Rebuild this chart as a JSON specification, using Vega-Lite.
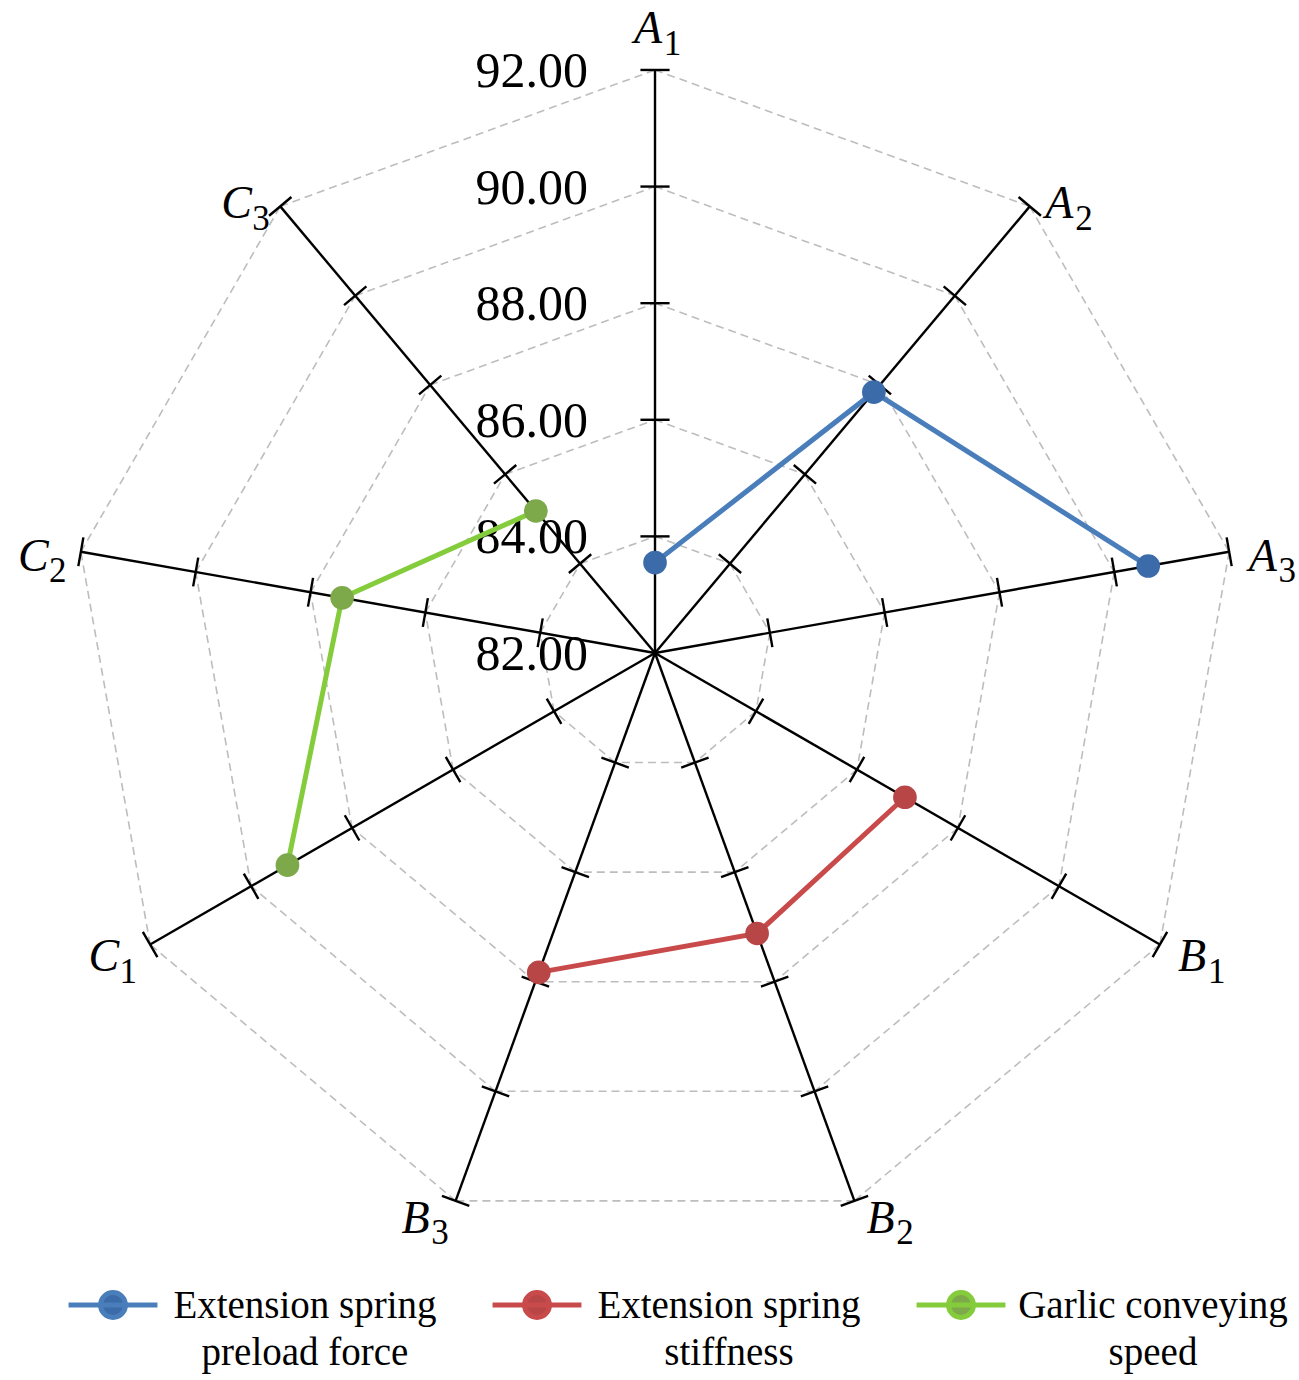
{
  "$schema": "https://vega.github.io/schema/vega-lite/v6.json",
  "description": "Radar chart of garlic root cutting test results by factor level.",
  "width": 1299,
  "height": 1250,
  "autosize": "none",
  "padding": {"left": 0, "top": 0, "right": 0, "bottom": 130},
  "datasets": {
    "axes": [
      {"letter": "A", "sub": "1", "k": 0, "levels": [84, 86, 88, 90, 92]},
      {"letter": "A", "sub": "2", "k": 1, "levels": [84, 86, 88, 90, 92]},
      {"letter": "A", "sub": "3", "k": 2, "levels": [84, 86, 88, 90, 92]},
      {"letter": "B", "sub": "1", "k": 3, "levels": [84, 86, 88, 90, 92]},
      {"letter": "B", "sub": "2", "k": 4, "levels": [84, 86, 88, 90, 92]},
      {"letter": "B", "sub": "3", "k": 5, "levels": [84, 86, 88, 90, 92]},
      {"letter": "C", "sub": "1", "k": 6, "levels": [84, 86, 88, 90, 92]},
      {"letter": "C", "sub": "2", "k": 7, "levels": [84, 86, 88, 90, 92]},
      {"letter": "C", "sub": "3", "k": 8, "levels": [84, 86, 88, 90, 92]}
    ],
    "ticks": [
      {"level": 82}, {"level": 84}, {"level": 86},
      {"level": 88}, {"level": 90}, {"level": 92}
    ],
    "results": [
      {"series": "Extension spring preload force", "axis": "A1", "k": 0, "value": 83.55},
      {"series": "Extension spring preload force", "axis": "A2", "k": 1, "value": 87.84},
      {"series": "Extension spring preload force", "axis": "A3", "k": 2, "value": 90.59},
      {"series": "Extension spring stiffness", "axis": "B1", "k": 3, "value": 86.95},
      {"series": "Extension spring stiffness", "axis": "B2", "k": 4, "value": 87.12},
      {"series": "Extension spring stiffness", "axis": "B3", "k": 5, "value": 87.83},
      {"series": "Garlic conveying speed", "axis": "C1", "k": 6, "value": 89.28},
      {"series": "Garlic conveying speed", "axis": "C2", "k": 7, "value": 87.45},
      {"series": "Garlic conveying speed", "axis": "C3", "k": 8, "value": 85.18}
    ]
  },
  "encoding": {
    "x": {"field": "x", "type": "quantitative", "axis": null,
          "scale": {"domain": [-11.235, 11.046], "nice": false, "zero": false}},
    "y": {"field": "y", "type": "quantitative", "axis": null,
          "scale": {"domain": [-10.24, 11.2], "nice": false, "zero": false}}
  },
  "layer": [
    {
      "data": {"name": "axes"},
      "transform": [
        {"flatten": ["levels"], "as": ["level"]},
        {"calculate": "datum.k * 2 * PI / 9", "as": "t"},
        {"calculate": "(datum.level - 82) * sin(datum.t)", "as": "x"},
        {"calculate": "(datum.level - 82) * cos(datum.t)", "as": "y"},
        {"calculate": "(datum.level - 82) * sin(datum.t + 2 * PI / 9)", "as": "x2"},
        {"calculate": "(datum.level - 82) * cos(datum.t + 2 * PI / 9)", "as": "y2"}
      ],
      "mark": {"type": "rule", "stroke": "#bdbdbd", "strokeWidth": 1.6, "strokeDash": [8, 5]},
      "encoding": {
        "x2": {"field": "x2"},
        "y2": {"field": "y2"}
      }
    },
    {
      "data": {"name": "axes"},
      "transform": [
        {"calculate": "datum.k * 2 * PI / 9", "as": "t"},
        {"calculate": "0", "as": "x"},
        {"calculate": "0", "as": "y"},
        {"calculate": "10 * sin(datum.t)", "as": "x2"},
        {"calculate": "10 * cos(datum.t)", "as": "y2"}
      ],
      "mark": {"type": "rule", "stroke": "#000000", "strokeWidth": 2.4},
      "encoding": {
        "x2": {"field": "x2"},
        "y2": {"field": "y2"}
      }
    },
    {
      "data": {"name": "axes"},
      "transform": [
        {"flatten": ["levels"], "as": ["level"]},
        {"calculate": "datum.k * 2 * PI / 9", "as": "t"},
        {"calculate": "(datum.level - 82) * sin(datum.t) - 0.25 * cos(datum.t)", "as": "x"},
        {"calculate": "(datum.level - 82) * cos(datum.t) + 0.25 * sin(datum.t)", "as": "y"},
        {"calculate": "(datum.level - 82) * sin(datum.t) + 0.25 * cos(datum.t)", "as": "x2"},
        {"calculate": "(datum.level - 82) * cos(datum.t) - 0.25 * sin(datum.t)", "as": "y2"}
      ],
      "mark": {"type": "rule", "stroke": "#000000", "strokeWidth": 2.4},
      "encoding": {
        "x2": {"field": "x2"},
        "y2": {"field": "y2"}
      }
    },
    {
      "data": {"name": "ticks"},
      "transform": [
        {"calculate": "-1.15", "as": "x"},
        {"calculate": "datum.level - 82", "as": "y"}
      ],
      "mark": {"type": "text", "font": "Liberation Serif", "fontSize": 50, "align": "right",
               "baseline": "alphabetic", "dy": 17, "color": "#000000"},
      "encoding": {
        "text": {"field": "level", "type": "quantitative", "format": ".2f"}
      }
    },
    {
      "data": {"name": "results"},
      "transform": [
        {"calculate": "datum.k * 2 * PI / 9", "as": "t"},
        {"calculate": "(datum.value - 82) * sin(datum.t)", "as": "x"},
        {"calculate": "(datum.value - 82) * cos(datum.t)", "as": "y"}
      ],
      "mark": {"type": "line", "strokeWidth": 5},
      "encoding": {
        "order": {"field": "k"},
        "color": {
          "field": "series", "type": "nominal",
          "scale": {
            "domain": ["Extension spring preload force", "Extension spring stiffness", "Garlic conveying speed"],
            "range": ["#4a7ebb", "#c94a4a", "#84cc3c"]
          },
          "legend": {
            "title": null,
            "orient": "none",
            "legendX": 66,
            "legendY": 1258,
            "direction": "horizontal",
            "columns": 3,
            "columnPadding": 45,
            "symbolType": "M-1,0L1,0M0.28,0A0.28,0.28,0,1,1,-0.28,0A0.28,0.28,0,1,1,0.28,0Z",
            "symbolSize": 7900,
            "symbolStrokeWidth": 5,
            "labelFont": "Liberation Serif",
            "labelFontSize": 39,
            "labelColor": "#000000",
            "labelAlign": "center",
            "labelBaseline": "alphabetic",
            "labelOffset": 145,
            "labelLimit": 500,
            "labelExpr": "datum.label == 'Extension spring preload force' ? ['Extension spring', 'preload force'] : datum.label == 'Extension spring stiffness' ? ['Extension spring', 'stiffness'] : ['Garlic  conveying', 'speed']",
            "encode": {
              "symbols": {"update": {
                "fill": {"scale": "color", "field": "value"},
                "stroke": {"scale": "color", "field": "value"},
                "opacity": {"value": 1}
              }},
              "labels": {"update": {
                "dy": {"value": 13},
                "lineHeight": {"value": 47}
              }}
            }
          }
        }
      }
    },
    {
      "data": {"name": "results"},
      "transform": [
        {"calculate": "datum.k * 2 * PI / 9", "as": "t"},
        {"calculate": "(datum.value - 82) * sin(datum.t)", "as": "x"},
        {"calculate": "(datum.value - 82) * cos(datum.t)", "as": "y"}
      ],
      "mark": {"type": "point", "filled": true, "size": 560, "opacity": 1},
      "encoding": {
        "fill": {
          "field": "series", "type": "nominal", "legend": null,
          "scale": {
            "domain": ["Extension spring preload force", "Extension spring stiffness", "Garlic conveying speed"],
            "range": ["#3b6ba8", "#b84646", "#7ea94a"]
          }
        }
      }
    },
    {
      "data": {"name": "axes"},
      "transform": [
        {"calculate": "datum.k * 2 * PI / 9", "as": "t"},
        {"calculate": "sin(datum.t) > 0.1 ? 1 : (sin(datum.t) < -0.1 ? -1 : 0)", "as": "side"},
        {"calculate": "10.2 * sin(datum.t) + datum.side * 0.5 - 0.12", "as": "x"},
        {"calculate": "10.2 * cos(datum.t) + (datum.side == 0 ? 0.5 : -0.12)", "as": "y"}
      ],
      "mark": {"type": "text", "font": "Liberation Serif", "fontStyle": "italic", "fontSize": 46,
               "align": "center", "baseline": "middle", "color": "#000000"},
      "encoding": {
        "text": {"field": "letter"}
      }
    },
    {
      "data": {"name": "axes"},
      "transform": [
        {"calculate": "datum.k * 2 * PI / 9", "as": "t"},
        {"calculate": "sin(datum.t) > 0.1 ? 1 : (sin(datum.t) < -0.1 ? -1 : 0)", "as": "side"},
        {"calculate": "10.2 * sin(datum.t) + datum.side * 0.5 + 0.3", "as": "x"},
        {"calculate": "10.2 * cos(datum.t) + (datum.side == 0 ? 0.5 : -0.12) - 0.25", "as": "y"}
      ],
      "mark": {"type": "text", "font": "Liberation Serif", "fontSize": 35,
               "align": "center", "baseline": "middle", "color": "#000000"},
      "encoding": {
        "text": {"field": "sub"}
      }
    }
  ],
  "config": {
    "view": {"stroke": null},
    "font": "Liberation Serif",
    "background": "#ffffff"
  }
}
